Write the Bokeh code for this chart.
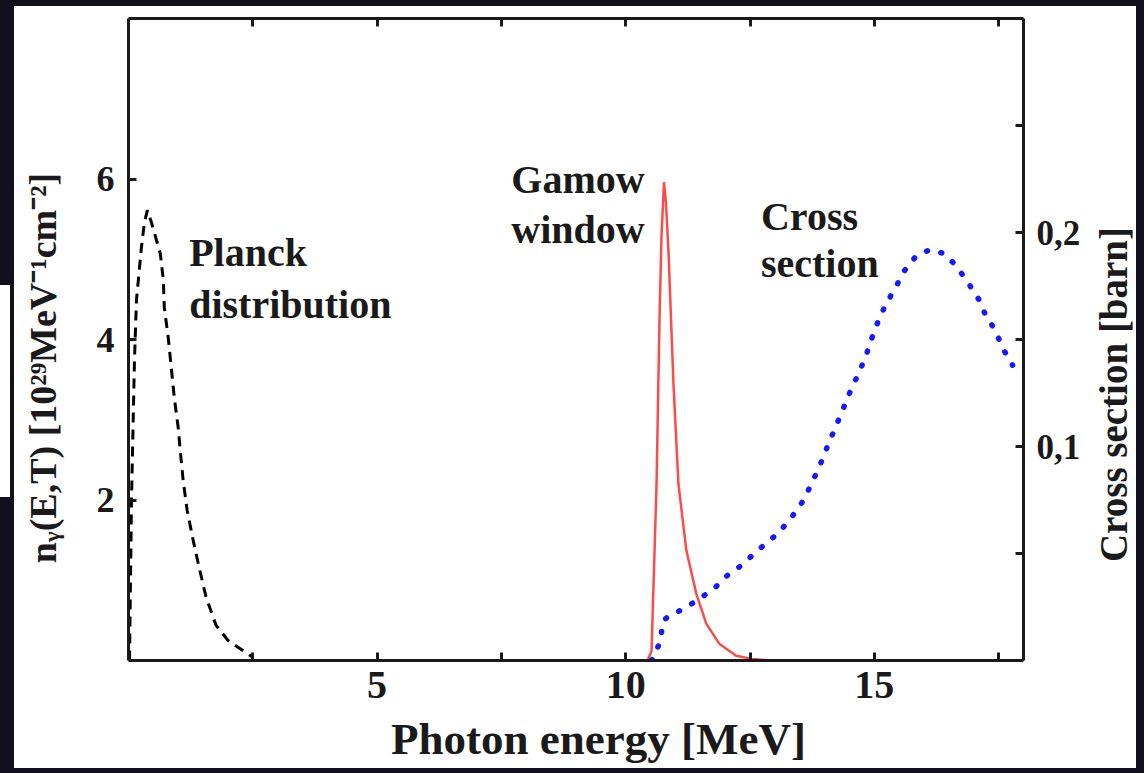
import math
from bokeh.plotting import figure
from bokeh.models import LinearAxis, Range1d, FixedTicker, Label, Column, Row
from bokeh.embed import file_html
from bokeh.resources import INLINE

# ---- data ----
planck_E = [0.02, 0.06, 0.12, 0.16, 0.26, 0.32, 0.38, 0.46, 0.64, 0.70, 0.72, 0.80, 0.86,
            0.92, 1.00, 1.04, 1.10, 1.18, 1.30, 1.42, 1.56, 1.76, 2.00, 2.50]
planck_n = [0.0, 2.0, 3.74, 4.49, 5.15, 5.46, 5.61, 5.46, 5.07, 4.74, 4.40, 4.02, 3.65,
            3.28, 2.90, 2.62, 2.24, 1.87, 1.50, 1.16, 0.79, 0.44, 0.25, 0.04]

gamow_E = [10.44, 10.52, 10.62, 10.68, 10.72, 10.77, 10.81, 10.86, 10.96, 11.06, 11.22,
           11.42, 11.62, 11.88, 12.22, 12.54, 12.92]
gamow_n = [0.0, 0.12, 2.2, 4.27, 5.3, 5.96, 5.7, 5.1, 3.45, 2.2, 1.37,
           0.83, 0.46, 0.21, 0.06, 0.02, 0.0]

cross_E = [10.52, 10.68, 10.76, 10.88, 11.18, 11.46, 11.78, 12.0, 12.3, 12.54, 12.82, 13.06,
           13.32, 13.56, 13.74, 13.92, 14.08, 14.22, 14.38, 14.52, 14.66, 14.82, 14.94, 15.06,
           15.22, 15.42, 15.6, 15.84, 16.12, 16.42, 16.66, 16.9, 17.12, 17.26, 17.42, 17.58,
           17.78]
cross_s = [0.0, 0.008, 0.0187, 0.021, 0.0243, 0.0285, 0.0336, 0.039, 0.044, 0.049, 0.0547, 0.0593,
           0.0664, 0.0743, 0.0827, 0.092, 0.1014, 0.109, 0.118, 0.126, 0.133, 0.1416, 0.150, 0.1575,
           0.166, 0.174, 0.182, 0.189, 0.192, 0.190, 0.184, 0.176, 0.168, 0.160, 0.155, 0.146,
           0.138]

x_ticks = [2.5, 5, 7.5, 10, 12.5, 15, 17.5]
x_labels = {2.5: "", 5: "5", 7.5: "", 10: "10", 12.5: "", 15: "15", 17.5: ""}
y_ticks = [2, 4, 6]
s_ticks = [0.05, 0.1, 0.15, 0.2, 0.25]
s_labels = {0.05: "", 0.1: "0,1", 0.15: "", 0.2: "0,2", 0.25: ""}

FONT = "Liberation Serif"
INK = "#1a1a1a"
EM = "\u2003"
NB = "\u00a0"

p = figure(frame_width=895, frame_height=642, x_range=Range1d(0, 18), y_range=Range1d(0, 8),
           output_backend="svg", toolbar_location=None,
           min_border_left=114, min_border_right=67, min_border_top=12, min_border_bottom=108,
           background_fill_color="white", border_fill_color="white", outline_line_color=None)
p.extra_y_ranges = {"sigma": Range1d(0, 0.3)}
p.xgrid.visible = False
p.ygrid.visible = False

right = LinearAxis(y_range_name="sigma")
top = LinearAxis()
p.add_layout(right, "right")
p.add_layout(top, "above")
bx = p.below[0]
ly = p.left[0]

def style(ax, size):
    ax.axis_line_width = 3
    ax.axis_line_color = INK
    ax.major_tick_line_width = 3
    ax.major_tick_line_color = INK
    ax.major_tick_in = 8
    ax.major_tick_out = 0
    ax.minor_tick_line_color = None
    ax.major_label_text_font = FONT
    ax.major_label_text_font_style = "bold"
    ax.major_label_text_font_size = size
    ax.major_label_text_color = INK
    ax.axis_label_text_font = FONT
    ax.axis_label_text_font_style = "bold"
    ax.axis_label_text_color = INK

style(bx, "40px")
style(ly, "36px")
style(right, "35px")
style(top, "1px")

bx.ticker = FixedTicker(ticks=x_ticks)
bx.major_label_overrides = x_labels
bx.major_label_standoff = 11
bx.axis_label = EM + "Photon energy [MeV]"
bx.axis_label_text_font_size = "45px"
bx.axis_label_standoff = 13

top.ticker = FixedTicker(ticks=x_ticks)
top.major_label_overrides = {t: "" for t in x_ticks}

ly.ticker = FixedTicker(ticks=y_ticks)
ly.major_label_standoff = 14
ly.axis_label = "n\u1d67(E,T) [10\u00b2\u2079MeV\u207b\u00b9cm\u207b\u00b2]" + EM + NB + NB
ly.axis_label_text_font_size = "38px"
ly.axis_label_standoff = 30

right.ticker = FixedTicker(ticks=s_ticks)
right.major_label_overrides = s_labels
right.major_label_standoff = 13

p.line(planck_E, planck_n, line_color="black", line_width=3, line_dash="10 7")
p.line(gamow_E, gamow_n, line_color="#ff4a4a", line_width=2.5)
p.line(cross_E, cross_s, y_range_name="sigma", line_color="#1717ff", line_width=5.5,
       line_dash="1 14", line_cap="round")

def lab(fig, x, y, t, size="40px", angle=0.0, align="left", baseline="alphabetic"):
    fig.add_layout(Label(x=x, y=y, text=t, text_font=FONT, text_font_style="bold",
                         text_font_size=size, text_color=INK, text_baseline=baseline,
                         text_align=align, angle=angle))

lab(p, 1.22, 5.08, "Planck")
lab(p, 1.22, 4.44, "distribution")
lab(p, 7.70, 5.99, "Gamow")
lab(p, 7.70, 5.37, "window")
lab(p, 12.72, 5.53, "Cross")
lab(p, 12.72, 4.95, "section")

# narrow strip on the right carrying the right-hand axis title (reads bottom to top);
# its frame is aligned with the main frame, so its y range spans the frame's 642 px
p2 = figure(width=46, height=762, x_range=Range1d(0, 46), y_range=Range1d(0, 642),
            output_backend="svg", toolbar_location=None, min_border=0,
            x_axis_location=None, y_axis_location=None,
            background_fill_color="white", border_fill_color="white", outline_line_color=None)
p2.xgrid.visible = False
p2.ygrid.visible = False
lab(p2, 23, 266, "Cross section [barn]", size="39px", angle=math.pi / 2,
    align="center", baseline="middle")

bg = "linear-gradient(#ffffff, #ffffff) 0px 285px / 10px 212px no-repeat, #120f1f"
row = Row(children=[p, p2], spacing=0, styles={"background-color": "white"})
layout = Column(children=[row], styles={"background": bg, "padding": "6px 8px 5px 14px"})

html = file_html(layout, INLINE)
html = html.replace("<body>", '<body style="margin:0;background:#120f1f">', 1)
open("out.html", "w").write(html)
